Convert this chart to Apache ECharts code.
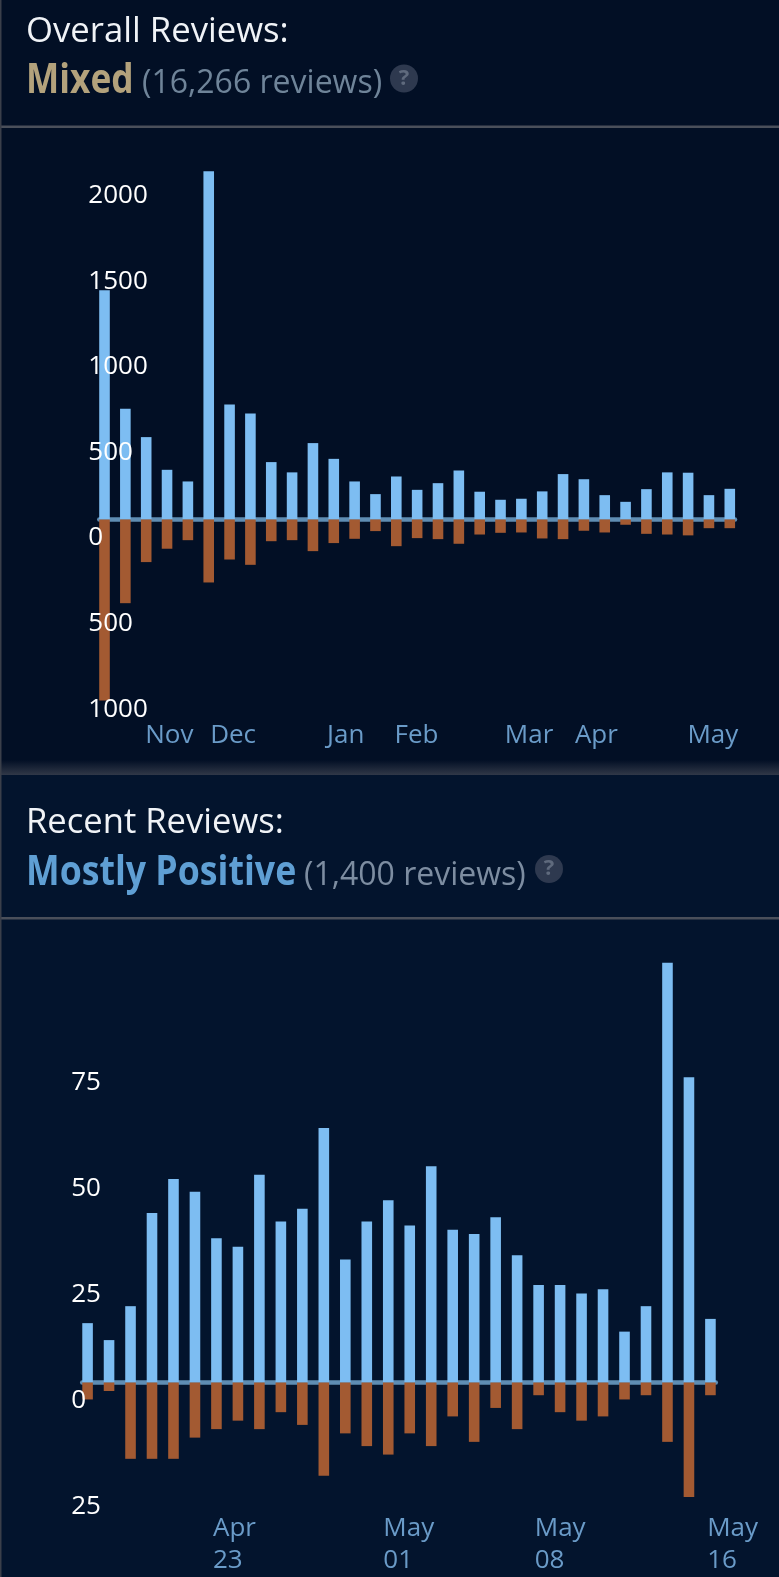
<!DOCTYPE html>
<html><head><meta charset="utf-8">
<style>html,body{margin:0;padding:0;background:#020f25}#c{width:779px;height:1577px}</style>
<script src="https://cdn.jsdelivr.net/npm/echarts@6/dist/echarts.min.js"></script>
</head><body><div id="c"></div>
<script>
const overallUp = [1338,646,481,290,222,2033,672,619,335,275,446,354,222,148,251,173,212,286,162,115,121,164,265,235,142,103,177,275,273,142,179];
const overallDown = [1057,489,249,171,121,368,234,265,127,121,185,138,113,68,156,109,115,142,88,78,76,111,115,66,76,31,84,88,93,51,51];
const overallTicks = [2000,1500,1000,500,0,-500,-1000];
const overallMonths = ['Nov','Dec','Jan','Feb','Mar','Apr','May'];
const overallMonthAt = [3.11,6.17,11.57,14.97,20.37,23.6,29.19];

const recentUp = [14,10,18,40,48,45,34,32,49,38,41,60,29,38,43,37,51,36,35,39,30,23,23,21,22,12,18,99,72,15];
const recentDown = [4,2,18,18,18,13,11,9,11,7,10,22,12,15,17,12,15,8,14,6,11,3,7,9,8,4,3,14,27,3];
const recentTicks = [75,50,25,0,-25];
const recentDates = ['Apr\n23','May\n01','May\n08','May\n16'];
const recentDateAt = [5.84,13.77,20.82,28.85];

const FONT = '"Open Sans","Noto Sans",sans-serif';
const BLUE = '#7dbdf2', BROWN = '#a35a32', LINE = '#5f8db3', XLAB = '#6a9bc8';
const pairs = (a, sign) => a.map((v, i) => [i, sign * v]);

function xAxis(gridIndex, n, at, names, lab) {
  return {
    type: 'value', gridIndex, min: -0.25, max: n - 0.75,
    splitLine: {show: false}, axisTick: {show: false},
    axisLine: {show: true, onZero: false, lineStyle: {opacity: 0}},
    axisLabel: Object.assign({
      customValues: at, color: XLAB, fontFamily: FONT, fontSize: 26,
      formatter: v => names[at.indexOf(v)] || ''
    }, lab)
  };
}
function zeroAxis(gridIndex, n) {
  return {
    type: 'value', gridIndex, min: -0.25, max: n - 0.75, z: 1,
    splitLine: {show: false}, axisTick: {show: false}, axisLabel: {show: false},
    axisLine: {show: true, onZero: true, lineStyle: {color: LINE, width: 4.5}}
  };
}
function yAxis(gridIndex, min, max, interval, ticks, pad) {
  return {
    type: 'value', gridIndex, min, max, interval, z: 5,
    splitLine: {show: false}, axisTick: {show: false}, axisLine: {show: false},
    axisLabel: {
      customValues: ticks, inside: false, align: 'left', margin: 11, color: '#ffffff',
      fontFamily: FONT, fontSize: 26, verticalAlign: 'top', padding: [pad, 0, 0, 0],
      formatter: v => String(Math.abs(v))
    }
  };
}
function bar(xi, yi, data, color) {
  return {type: 'bar', xAxisIndex: xi, yAxisIndex: yi, data, barWidth: 10.6, barGap: '-100%', clip: false, itemStyle: {color}, silent: true, z: 2};
}
function label(text, x, y, size, color, weight, sx) {
  return {type: 'text', x, y, z: 10, scaleX: sx || 1, originX: 0, style: {text, fill: color, fontFamily: FONT, fontSize: size, fontWeight: weight || 400, verticalAlign: 'bottom'}};
}
function help(cx, cy) {
  return [
    {type: 'circle', shape: {cx, cy, r: 14}, z: 9, style: {fill: '#2e394f'}},
    {type: 'text', x: cx, y: cy, z: 10, style: {text: '?', fill: '#5f6a7d', fontFamily: FONT, fontSize: 22, fontWeight: 700, align: 'center', verticalAlign: 'middle'}}
  ];
}
const rect = (x, y, w, h, fill, z) => ({type: 'rect', shape: {x, y, width: w, height: h}, z: z === undefined ? -5 : z, silent: true, style: {fill}});

const chart = echarts.init(document.getElementById('c'), null, {renderer: 'canvas', width: 779, height: 1577});
chart.setOption({
  backgroundColor: '#020f25',
  animation: false,
  grid: [
    {left: 99.3, right: 779 - 735, top: 159.9, height: 547.9},
    {left: 82.2, right: 779 - 715.8, top: 958.5, height: 530}
  ],
  xAxis: [
    xAxis(0, overallUp.length, overallMonthAt, overallMonths, {margin: 15}),
    zeroAxis(0, overallUp.length),
    xAxis(1, recentUp.length, recentDateAt, recentDates, {margin: 24, align: 'left', lineHeight: 32}),
    zeroAxis(1, recentUp.length)
  ],
  yAxis: [
    yAxis(0, -1100, 2100, 100, overallTicks, 5.5),
    yAxis(1, -25, 100, 25, recentTicks, 5)
  ],
  series: [
    bar(1, 0, pairs(overallUp, 1), BLUE),
    bar(1, 0, pairs(overallDown, -1), BROWN),
    bar(3, 1, pairs(recentUp, 1), BLUE),
    bar(3, 1, pairs(recentDown, -1), BROWN)
  ],
  graphic: [
    rect(0, 775, 779, 802, '#03142d', -9),
    {type: 'rect', shape: {x: 0, y: 760, width: 779, height: 15}, z: -8, silent: true,
     style: {fill: new echarts.graphic.LinearGradient(0, 0, 0, 1, [{offset: 0, color: 'rgba(60,66,80,0)'}, {offset: 1, color: 'rgba(60,66,80,0.8)'}])}},
    rect(0, 125.5, 779, 2.5, '#4a4f5a'),
    rect(0, 917, 779, 2.5, '#4a4f5a'),
    rect(0, 0, 1.5, 1577, '#3a3f4a'),
    label('Overall Reviews:', 26, 49.4, 34.7, '#f0f3f7'),
    label('Mixed', 26, 101.8, 41, '#b3a27c', 700, 0.86),
    label('(16,266 reviews)', 142, 99.7, 32, '#6f8499'),
    ...help(404, 78.5),
    label('Recent Reviews:', 26, 841, 34.6, '#f0f3f7'),
    label('Mostly Positive', 26, 893.8, 41, '#5f9fd4', 700, 0.87),
    label('(1,400 reviews)', 304, 891.7, 32, '#7d8da1'),
    ...help(549, 869)
  ]
});
</script></body></html>
